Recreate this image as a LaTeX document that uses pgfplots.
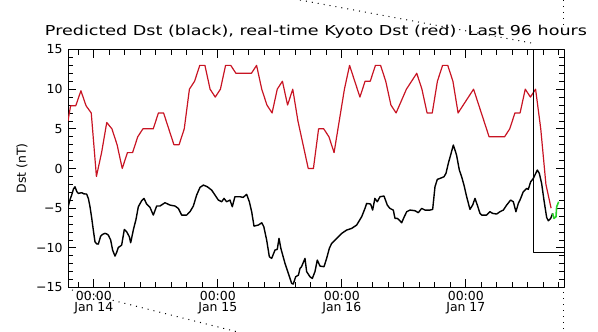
\documentclass[border=0pt]{standalone}
\usepackage{pgfplots}
\pgfplotsset{compat=1.18}
\usepackage{fontspec}
\setmainfont{DejaVu Sans}
\usepackage{graphicx}
\definecolor{dstred}{RGB}{200,20,35}
\definecolor{dstgreen}{RGB}{40,210,40}
\begin{document}
\begin{tikzpicture}
\useasboundingbox (-68bp,-44.5bp) rectangle (530bp,287.5bp);
\begin{axis}[at={(0,0)}, anchor=south west, scale only axis,
  width=496bp, height=238bp,
  xmin=-5, xmax=91, ymin=-15, ymax=15,
  xtick={0,24,48,72},
  xticklabels={00:00\\Jan 14,00:00\\Jan 15,00:00\\Jan 16,00:00\\Jan 17},
  minor xtick={-3,0,...,90},
  ytick={-15,-10,...,15},
  yticklabels={−15,−10,−5,0,5,10,15},
  minor ytick={-15,...,15},
  tick align=inside,
  major tick length=8bp, minor tick length=5bp,
  tick style={black, line width=0.8bp},
  axis line style={black, line width=0.9bp},
  xticklabel style={align=center, font=\fontsize{12.5}{11}\selectfont},
  yticklabel style={font=\fontsize{12.5}{14}\selectfont, xshift=-2bp},
  ylabel={Dst (nT)},
  ylabel style={at={(axis description cs:-0.0927,0.5)}, anchor=center, font=\fontsize{12.5}{14}\selectfont},
  title={\resizebox{542bp}{\height}{Predicted Dst (black), real-time Kyoto Dst (red)\ \ Last 96 hours}},
  title style={at={(axis description cs:0.5,1)}, anchor=base, yshift=7.8bp, font=\fontsize{13.7}{16}\selectfont},
  line join=round,
]
\addplot[dstred, line width=1.2bp] coordinates {
(-5,6) (-4.5,7.9) (-3.5,7.9) (-2.5,9.8) (-1.5,7.9) (-0.5,7.0) (0.5,-1.0) (1.5,2.0)
(2.5,5.8) (3.5,5.0) (4.5,3.0) (5.5,0.0) (6.5,2.0) (7.5,2.0) (8.5,4.0) (9.5,5.0)
(10.5,5.0) (11.5,5.0) (12.5,7.0) (13.5,7.0) (14.5,5.0) (15.5,3.0) (16.5,3.0) (17.5,5.0)
(18.5,10.0) (19.5,11.0) (20.5,13.0) (21.5,13.0) (22.5,10.0) (23.5,9.0) (24.5,10.0) (25.5,13.0)
(26.5,13.0) (27.5,12.0) (28.5,12.0) (29.5,12.0) (30.5,12.0) (31.5,13.0) (32.5,10.0) (33.5,8.0)
(34.5,7.0) (35.5,10.0) (36.5,11.0) (37.5,8.0) (38.5,10.0) (39.5,6.0) (40.5,3.0) (41.5,0.0)
(42.5,0.0) (43.5,5.0) (44.5,5.0) (45.5,4.0) (46.5,2.0) (47.5,6.0) (48.5,10.0) (49.5,13.0)
(50.5,11.0) (51.5,9.0) (52.5,11.0) (53.5,11.0) (54.5,13.0) (55.5,13.0) (56.5,11.0) (57.5,8.0)
(58.5,7.0) (59.5,8.5) (60.5,10.0) (61.5,11.0) (62.5,12.0) (63.5,10.0) (64.5,7.0) (65.5,7.0)
(66.5,11.0) (67.5,13.0) (68.5,13.0) (69.5,11.0) (70.5,7.0) (71.5,8.0) (72.5,9.0) (73.5,10.0)
(74.5,8.0) (75.5,6.0) (76.5,4.0) (77.5,4.0) (78.5,4.0) (79.5,4.0) (80.5,5.0) (81.5,7.0)
(82.5,7.0) (83.5,10.0) (84.5,9.0) (85.5,10.0) (86.5,5.0) (87.5,-2.0) (88.5,-5.0)
};
\addplot[black, line width=1.4bp] coordinates {
(-5.0,-4.9) (-4.6,-3.9) (-4.29,-3.35) (-3.95,-2.6) (-3.65,-2.3) (-3.3,-2.9) (-3.0,-3.14)
(-2.36,-3.05) (-1.9,-3.2) (-1.39,-3.22) (-1.05,-3.8) (-0.74,-4.82) (-0.4,-6.3) (-0.1,-7.76)
(0.22,-9.23) (0.55,-9.5) (0.87,-9.53) (1.32,-8.52) (1.7,-8.3) (2.16,-8.18) (2.5,-8.25)
(2.8,-8.39) (3.26,-9.02) (3.64,-10.3) (4.1,-11.04) (4.4,-10.6) (4.74,-9.95) (5.1,-9.8)
(5.39,-9.65) (5.9,-7.68) (6.35,-7.97) (6.87,-8.6) (7.13,-9.36) (7.64,-7.76) (8.16,-6.42)
(8.61,-4.82) (9.26,-4.06) (9.71,-3.77) (10.22,-4.48) (10.87,-4.9) (11.51,-5.87) (12.16,-4.73)
(12.8,-4.73) (13.77,-4.31) (14.74,-4.61) (15.71,-4.73) (16.35,-5.03) (17.0,-5.87) (17.97,-5.87)
(18.61,-5.45) (19.26,-4.73) (19.9,-3.35) (20.55,-2.38) (21.2,-2.09) (21.97,-2.3) (22.8,-2.72)
(23.45,-3.35) (24.1,-3.98) (24.74,-4.19) (25.2,-3.77) (25.7,-4.19) (26.35,-3.98) (26.8,-4.82)
(27.3,-3.56) (28.3,-3.56) (28.9,-3.64) (29.58,-3.26) (30.1,-4.19) (30.55,-5.45) (31.0,-7.26)
(31.84,-7.13) (32.5,-6.84) (32.9,-7.34) (33.45,-9.02) (33.97,-11.12) (34.42,-11.33) (35.06,-10.28)
(35.5,-10.2) (35.84,-8.81) (36.2,-10.07) (37.0,-11.96) (37.6,-13.14) (38.3,-14.49) (38.6,-14.57)
(39.06,-13.65) (39.6,-13.44) (39.9,-12.6) (40.2,-12.38) (40.87,-11.33) (41.19,-13.0) (41.84,-13.65)
(42.29,-13.86) (42.8,-13.0) (43.25,-11.54) (43.77,-12.3) (44.55,-12.38) (45.06,-11.33) (45.58,-10.07)
(46.03,-9.44) (47.0,-8.81) (47.97,-8.18) (48.93,-7.76) (49.9,-7.55) (50.87,-7.13) (51.84,-6.08)
(52.48,-5.03) (52.8,-4.4) (53.58,-4.48) (53.96,-5.24) (54.4,-3.77) (54.87,-4.19) (55.38,-3.56)
(56.16,-3.47) (56.8,-4.61) (57.3,-5.03) (57.96,-5.24) (58.29,-6.29) (58.74,-6.29) (59.12,-6.5)
(59.58,-6.84) (60.03,-6.16) (60.55,-5.45) (61.19,-5.24) (62.16,-5.32) (62.8,-5.57) (63.45,-5.03)
(64.1,-5.24) (65.06,-5.24) (65.58,-5.15) (66.03,-2.3) (66.48,-1.37) (67.0,-1.25) (67.77,-1.04)
(68.16,-0.61) (68.61,0.65) (69.06,1.7) (69.58,2.96) (69.9,2.33) (70.2,1.7) (70.74,-0.19)
(71.19,-1.04) (71.64,-2.09) (72.16,-3.56) (72.8,-5.15) (73.32,-4.61) (73.77,-3.77) (74.22,-4.61)
(74.74,-5.66) (75.06,-5.87) (76.03,-5.87) (76.67,-5.45) (77.19,-5.66) (77.96,-5.74) (78.6,-5.45)
(79.25,-5.24) (79.9,-4.61) (80.67,-3.98) (81.19,-4.19) (81.7,-5.45) (82.16,-4.4) (82.48,-3.98)
(83.12,-2.93) (83.77,-2.51) (84.09,-2.63) (84.55,-1.67) (85.06,-1.25) (85.84,-0.19) (86.22,-0.61)
(86.67,-1.88) (87.12,-3.98) (87.64,-6.16) (87.97,-6.59) (88.42,-6.29) (88.8,-5.66)
};
\addplot[dstgreen, line width=1.6bp] coordinates {
(88.8,-5.66) (89.06,-6.29) (89.45,-6.08) (89.58,-4.82) (89.97,-4.19)
};
\addplot[black, line width=1bp] coordinates {(85,15) (85,-10.6) (91,-10.6)};
\end{axis}
\draw[line width=1bp, dash pattern=on 1bp off 5bp] (232bp,287.5bp) -- (465bp,244.2bp);
\draw[line width=1bp, dash pattern=on 1bp off 5bp] (495bp,287.5bp) -- (495bp,257.5bp);
\draw[line width=1bp, dash pattern=on 1bp off 5bp] (4bp,-2.5bp) -- (170bp,-44.5bp);
\draw[line width=1bp, dash pattern=on 1bp off 5bp] (495bp,-4.5bp) -- (495bp,-44.5bp);
\end{tikzpicture}
\end{document}
